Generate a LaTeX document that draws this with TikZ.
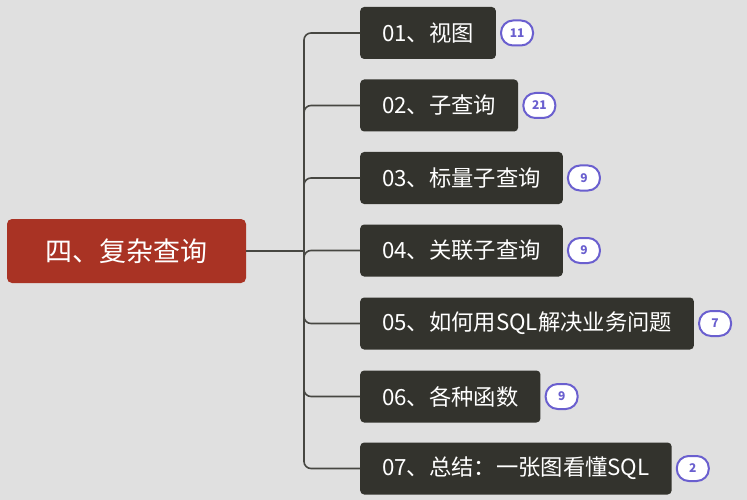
\documentclass[tikz,border=0pt]{standalone}
\usepackage{fontspec}
\setmainfont{Noto Sans CJK SC}
\usetikzlibrary{positioning}
\definecolor{bgcol}{HTML}{E0E0E0}
\definecolor{rootcol}{HTML}{A93324}
\definecolor{boxcol}{HTML}{33332D}
\definecolor{badgecol}{HTML}{6A5FCF}
\tikzset{
  topic/.style={fill=boxcol,rounded corners=4pt,text=white,anchor=west,
    minimum height=52pt,inner xsep=22pt,font=\fontsize{22.3}{25}\selectfont},
  badge/.style={draw=badgecol,line width=2pt,fill=white,rounded corners=12pt,
    minimum width=32pt,minimum height=25pt,inner sep=0pt,text=badgecol,
    font=\bfseries\fontsize{12}{14}\selectfont},
  branch/.style={draw=boxcol!90,line width=1.6pt,rounded corners=7pt}
}
\begin{document}
\begin{tikzpicture}[x=1pt,y=-1pt]
\fill[bgcol] (0,0) rectangle (747,500);
\useasboundingbox (0,0) rectangle (747,500);
\node[fill=rootcol,rounded corners=5pt,text=white,minimum width=239pt,minimum height=64pt,
  font=\fontsize{27}{30}\selectfont] (root) at (126.5,251) {四、复杂查询};
\coordinate (trunk) at (304,251);
\draw[branch] (root.east) -- (trunk);
\foreach \n/\y/\txt/\num in {1/33/视图/11,2/105.5/子查询/21,3/178/标量子查询/9,4/250.5/关联子查询/9,
  5/323.5/如何用SQL解决业务问题/7,6/396.5/各种函数/9,7/468.5/总结：一张图看懂SQL/2}
{
  \node[topic] (t\n) at (360,\y) {0\n、\txt};
  \node[badge,right=4pt of t\n] (b\n) {\num};
  \draw[branch] (trunk) |- (t\n.west);
}
\end{tikzpicture}
\end{document}
